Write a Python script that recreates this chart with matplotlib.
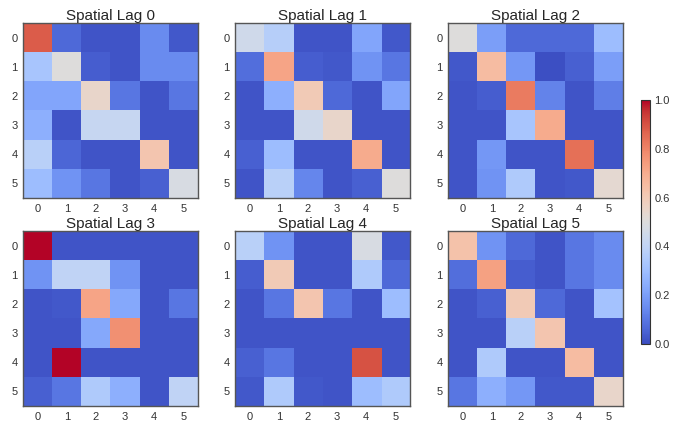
import numpy as np
import matplotlib
matplotlib.use("Agg")
import matplotlib.pyplot as plt
import seaborn as sns

sns.set_style("white")
plt.rcParams['font.family'] = ['Liberation Sans', 'DejaVu Sans']

labels = [0, 1, 2, 3, 4, 5]
titles = ["Spatial Lag %d" % i for i in range(6)]

lag0 = [[0.88, 0.07, 0.02, 0.02, 0.15, 0.03],
        [0.33, 0.50, 0.04, 0.02, 0.15, 0.15],
        [0.22, 0.22, 0.55, 0.10, 0.02, 0.10],
        [0.25, 0.02, 0.42, 0.42, 0.02, 0.02],
        [0.38, 0.06, 0.02, 0.02, 0.62, 0.02],
        [0.30, 0.17, 0.10, 0.02, 0.05, 0.48]]
lag1 = [[0.45, 0.37, 0.02, 0.02, 0.22, 0.03],
        [0.08, 0.72, 0.04, 0.03, 0.17, 0.10],
        [0.02, 0.25, 0.60, 0.07, 0.02, 0.22],
        [0.02, 0.02, 0.45, 0.55, 0.02, 0.02],
        [0.05, 0.30, 0.02, 0.02, 0.70, 0.02],
        [0.02, 0.38, 0.14, 0.02, 0.05, 0.50]]
lag2 = [[0.50, 0.20, 0.07, 0.07, 0.07, 0.30],
        [0.03, 0.65, 0.18, 0.01, 0.05, 0.20],
        [0.02, 0.04, 0.82, 0.13, 0.02, 0.12],
        [0.02, 0.02, 0.33, 0.70, 0.02, 0.02],
        [0.02, 0.18, 0.02, 0.02, 0.84, 0.02],
        [0.02, 0.17, 0.35, 0.02, 0.03, 0.53]]
lag3 = [[1.00, 0.02, 0.02, 0.02, 0.02, 0.02],
        [0.17, 0.40, 0.40, 0.17, 0.02, 0.02],
        [0.02, 0.03, 0.72, 0.23, 0.02, 0.10],
        [0.02, 0.02, 0.23, 0.77, 0.02, 0.02],
        [0.02, 1.00, 0.02, 0.02, 0.02, 0.02],
        [0.05, 0.10, 0.35, 0.25, 0.02, 0.40]]
lag4 = [[0.38, 0.17, 0.02, 0.02, 0.48, 0.03],
        [0.04, 0.60, 0.02, 0.02, 0.35, 0.07],
        [0.02, 0.10, 0.62, 0.10, 0.02, 0.30],
        [0.02, 0.02, 0.02, 0.02, 0.02, 0.02],
        [0.05, 0.10, 0.02, 0.02, 0.90, 0.02],
        [0.03, 0.35, 0.03, 0.02, 0.30, 0.35]]
lag5 = [[0.63, 0.17, 0.07, 0.02, 0.10, 0.15],
        [0.08, 0.73, 0.04, 0.02, 0.10, 0.15],
        [0.02, 0.05, 0.60, 0.07, 0.02, 0.32],
        [0.02, 0.02, 0.38, 0.62, 0.02, 0.02],
        [0.02, 0.35, 0.02, 0.02, 0.65, 0.02],
        [0.10, 0.25, 0.18, 0.03, 0.03, 0.55]]
lags = [lag0, lag1, lag2, lag3, lag4, lag5]

W, H = 673, 424
fig = plt.figure(figsize=(W / 100, H / 100), dpi=100)

lefts = [23, 235, 448]
tops = [23, 231]
size_w, size_h = 175, 175


def px_rect(x0, y0, w, h):
    return [x0 / W, (H - y0 - h) / H, w / W, h / H]


im = None
for k, mat in enumerate(lags):
    r, c = divmod(k, 3)
    ax = fig.add_axes(px_rect(lefts[c], tops[r], size_w, size_h))
    im = ax.imshow(np.array(mat), cmap='coolwarm', vmin=0, vmax=1, aspect='auto')
    ax.set_xticks(range(6))
    ax.set_yticks(range(6))
    ax.set_xticklabels(labels)
    ax.set_yticklabels(labels)
    ax.tick_params(length=0, labelsize=8, colors='#333333', pad=4)
    ax.set_title(titles[k], fontsize=11, pad=2)
    for s in ax.spines.values():
        s.set_color('#555555')
        s.set_linewidth(1.0)

# colorbar kept a little left of the reference so its labels stay inside
cax = fig.add_axes(px_rect(641, 100, 9, 244))
cb = fig.colorbar(im, cax=cax)
cb.set_ticks([0, 0.2, 0.4, 0.6, 0.8, 1.0])
cb.ax.tick_params(length=0, labelsize=8, colors='#333333', pad=3)
cb.outline.set_edgecolor('#333333')

fig.savefig("out.png", dpi=100)
